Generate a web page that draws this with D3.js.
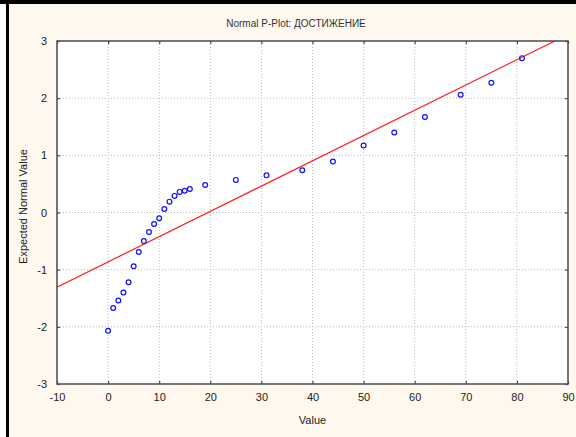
<!DOCTYPE html>
<html>
<head>
<meta charset="utf-8">
<script src="https://cdn.jsdelivr.net/npm/d3@7"></script>
<style>
  html, body { margin: 0; padding: 0; background: #ffffff; }
  svg { display: block; }
  text { font-family: "Liberation Sans", Arial, sans-serif; }
</style>
</head>
<body>
<script>
// ---- data ----
const title = "Normal P-Plot: ДОСТИЖЕНИЕ";
const xLabel = "Value";
const yLabel = "Expected Normal Value";
const values = [0, 1, 2, 3, 4, 5, 6, 7, 8, 9, 10, 11, 12, 13, 14, 15, 16, 19, 25, 31, 38, 44, 50, 56, 62, 69, 75, 81];
const expected = [-2.07, -1.67, -1.54, -1.40, -1.22, -0.94, -0.69, -0.50, -0.34, -0.20, -0.10, 0.06, 0.19, 0.29, 0.36, 0.38, 0.41, 0.48, 0.57, 0.65, 0.74, 0.89, 1.17, 1.40, 1.67, 2.06, 2.27, 2.70];
const xTicks = [-10, 0, 10, 20, 30, 40, 50, 60, 70, 80, 90];
const yTicks = [-3, -2, -1, 0, 1, 2, 3];
const lineIntercept = -0.864;
const lineSlope = 0.0442;

// ---- layout ----
const W = 576, H = 437;
const m = { left: 57, right: 568, top: 41, bottom: 384 };

const svg = d3.select("body").append("svg").attr("width", W).attr("height", H);

// outer frame
svg.append("rect").attr("x", 0).attr("y", 0).attr("width", W).attr("height", H).attr("fill", "#ffffff");
svg.append("rect").attr("x", 9).attr("y", 4).attr("width", W - 9).attr("height", H - 4).attr("fill", "#fff8ee");
svg.append("rect").attr("x", 0).attr("y", 0).attr("width", W).attr("height", 4).attr("fill", "#000");
svg.append("rect").attr("x", 6).attr("y", 0).attr("width", 3).attr("height", H).attr("fill", "#000");

const x = d3.scaleLinear().domain([-10, 90]).range([m.left, m.right]);
const y = d3.scaleLinear().domain([-3, 3]).range([m.bottom, m.top]);

// plot area
svg.append("rect").attr("x", m.left).attr("y", m.top)
  .attr("width", m.right - m.left).attr("height", m.bottom - m.top).attr("fill", "#ffffff");

// grid
const grid = svg.append("g");
grid.selectAll(".gx").data(xTicks.slice(1, -1)).enter().append("line")
  .attr("x1", d => x(d)).attr("x2", d => x(d)).attr("y1", m.top).attr("y2", m.bottom)
  .attr("stroke", "#b8b8b8").attr("stroke-width", 1).attr("stroke-dasharray", "1,2");
grid.selectAll(".gy").data(yTicks.slice(1, -1)).enter().append("line")
  .attr("y1", d => y(d)).attr("y2", d => y(d)).attr("x1", m.left).attr("x2", m.right)
  .attr("stroke", "#b8b8b8").attr("stroke-width", 1).attr("stroke-dasharray", "1,2");

// clip
svg.append("clipPath").attr("id", "clip").append("rect")
  .attr("x", m.left).attr("y", m.top).attr("width", m.right - m.left).attr("height", m.bottom - m.top);

// fit line
const lx = d3.extent(x.domain());
svg.append("line")
  .attr("clip-path", "url(#clip)")
  .attr("x1", x(lx[0])).attr("y1", y(lineIntercept + lineSlope * lx[0]))
  .attr("x2", x(lx[1])).attr("y2", y(lineIntercept + lineSlope * lx[1]))
  .attr("stroke", "#ff2020").attr("stroke-width", 1.2);

// points
svg.append("g").selectAll("circle").data(values).enter().append("circle")
  .attr("cx", d => x(d)).attr("cy", (d, i) => y(expected[i]))
  .attr("r", 2.4).attr("fill", "none").attr("stroke", "#1010ff").attr("stroke-width", 1.2);

// axes (ticks inside)
const fmt = d => String(d);
const tickStyle = g => {
  g.select(".domain").remove();
  g.selectAll(".tick line").attr("stroke", "#444").attr("stroke-width", 1.2);
  g.selectAll(".tick text").attr("fill", "#222").attr("font-size", "11px");
};
svg.append("g").attr("transform", `translate(0,${m.bottom})`)
  .call(d3.axisBottom(x).tickValues(xTicks).tickFormat(fmt).tickSizeInner(-3).tickSizeOuter(0).tickPadding(9))
  .call(tickStyle);
svg.append("g").attr("transform", `translate(0,${m.top})`)
  .call(d3.axisTop(x).tickValues(xTicks).tickFormat("").tickSizeInner(-3).tickSizeOuter(0))
  .call(tickStyle);
svg.append("g").attr("transform", `translate(${m.left},0)`)
  .call(d3.axisLeft(y).tickValues(yTicks).tickFormat(fmt).tickSizeInner(-3).tickSizeOuter(0).tickPadding(10))
  .call(tickStyle);
svg.append("g").attr("transform", `translate(${m.right},0)`)
  .call(d3.axisRight(y).tickValues(yTicks).tickFormat("").tickSizeInner(-3).tickSizeOuter(0))
  .call(tickStyle);

// plot border
svg.append("rect").attr("x", m.left).attr("y", m.top)
  .attr("width", m.right - m.left).attr("height", m.bottom - m.top)
  .attr("fill", "none").attr("stroke", "#555").attr("stroke-width", 1.6);

// title & labels
svg.append("text").attr("x", 296).attr("y", 27).attr("text-anchor", "middle")
  .attr("font-size", "10px").attr("fill", "#333").text(title);
svg.append("text").attr("x", (m.left + m.right) / 2).attr("y", 424).attr("text-anchor", "middle")
  .attr("font-size", "11px").attr("fill", "#222").text(xLabel);
svg.append("text").attr("transform", `translate(27,${(m.top + m.bottom) / 2 - 6}) rotate(-90)`)
  .attr("text-anchor", "middle").attr("font-size", "11px").attr("fill", "#222").text(yLabel);
</script>
</body>
</html>
